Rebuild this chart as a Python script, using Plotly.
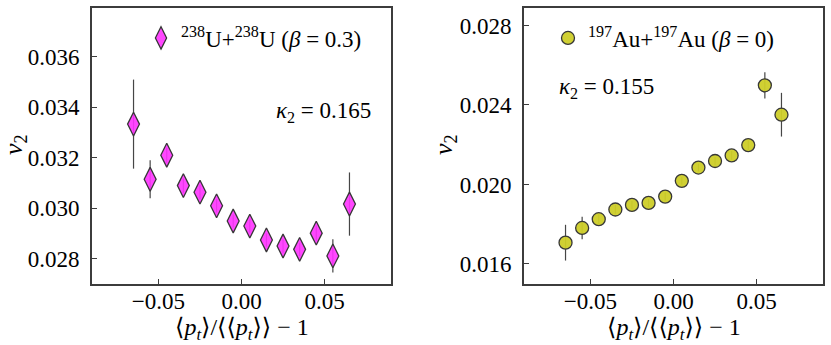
import plotly.graph_objects as go
from plotly.subplots import make_subplots

# x bins of <pt>/<<pt>> - 1
x_bins = [-0.065, -0.055, -0.045, -0.035, -0.025, -0.015, -0.005,
          0.005, 0.015, 0.025, 0.035, 0.045, 0.055, 0.065]

# 238U+238U (beta = 0.3)
v2_uu = [0.03333, 0.03115, 0.03210, 0.03090, 0.03064, 0.03010, 0.02950,
         0.02930, 0.02875, 0.02851, 0.02838, 0.02902, 0.02812, 0.03017]
err_uu = [0.00176, 0.00075, 0.00030, 0.00028, 0.00028, 0.00026, 0.00026,
          0.00026, 0.00026, 0.00026, 0.00026, 0.00030, 0.00066, 0.00125]

# 197Au+197Au (beta = 0)
v2_au = [0.01707, 0.01781, 0.01825, 0.01874, 0.01897, 0.01907, 0.01939,
         0.02018, 0.02085, 0.02118, 0.02146, 0.02198, 0.02499, 0.02351]
err_au = [0.00090, 0.00057, 0.00025, 0.00022, 0.00020, 0.00020, 0.00020,
          0.00020, 0.00020, 0.00022, 0.00022, 0.00025, 0.00066, 0.00110]

x_ticks = [-0.05, 0.0, 0.05]
x_ticktext = ["\u22120.05", "0.00", "0.05"]
uu_ticks = [0.028, 0.030, 0.032, 0.034, 0.036]
au_ticks = [0.016, 0.020, 0.024, 0.028]

FONT = "Liberation Serif, DejaVu Serif, serif"
EDGE = "rgb(55, 55, 55)"

fig = make_subplots(rows=1, cols=2)

fig.add_trace(go.Scatter(
    x=x_bins, y=v2_uu,
    mode="markers",
    name="<sup>238</sup>U+<sup>238</sup>U (<i>\u03b2</i> = 0.3)",
    marker=dict(symbol="diamond-tall", size=17, color="rgba(255, 51, 255, 0.9)",
                line=dict(color=EDGE, width=1.3)),
    error_y=dict(type="data", array=err_uu, color="rgb(70, 70, 70)",
                 thickness=1.2, width=0),
    showlegend=True,
    legend="legend",
), row=1, col=1)

fig.add_trace(go.Scatter(
    x=x_bins, y=v2_au,
    mode="markers",
    name="<sup>197</sup>Au+<sup>197</sup>Au (<i>\u03b2</i> = 0)",
    marker=dict(symbol="circle", size=13, color="rgba(205, 205, 40, 0.95)",
                line=dict(color=EDGE, width=1.3)),
    error_y=dict(type="data", array=err_au, color="rgb(70, 70, 70)",
                 thickness=1.2, width=0),
    showlegend=True,
    legend="legend2",
), row=1, col=2)

axis_style = dict(
    showline=True, mirror=True, linecolor="rgb(60, 60, 60)", linewidth=1.6,
    ticks="inside", ticklen=5, tickwidth=1, tickcolor="rgb(60, 60, 60)",
    showgrid=False, zeroline=False, automargin=False,
    tickfont=dict(family=FONT, size=23, color="black"),
)
xtitle = "\u27e8<i>p<sub>t</sub></i>\u27e9/\u27e8\u27e8<i>p<sub>t</sub></i>\u27e9\u27e9 \u2212 1"

fig.update_xaxes(**axis_style, range=[-0.09, 0.09], tickvals=x_ticks,
                 ticktext=x_ticktext, ticklabelstandoff=-4)
fig.update_xaxes(domain=[92 / 831, 391 / 831], row=1, col=1)
fig.update_xaxes(domain=[524 / 831, 823 / 831], row=1, col=2)
fig.update_yaxes(**axis_style, domain=[1 - 284 / 345, 1 - 8 / 345],
                 ticklabelstandoff=6)
fig.update_yaxes(range=[0.02701, 0.03792], tickvals=uu_ticks, tickformat=".3f",
                 row=1, col=1)
fig.update_yaxes(range=[0.01499, 0.02888], tickvals=au_ticks, tickformat=".3f",
                 row=1, col=2)

legend_style = dict(
    bgcolor="rgba(0,0,0,0)", borderwidth=0,
    font=dict(family=FONT, size=23, color="black"),
    xanchor="left", yanchor="middle", itemsizing="trace",
    visible=True,
)


def label(text, x, y, size, xanchor="center", **kw):
    return dict(text=text, xref="paper", yref="paper", x=x / 831, y=1 - y / 345,
                xanchor=xanchor, yanchor="middle", showarrow=False,
                font=dict(family=FONT, size=size, color="black"), **kw)


fig.update_layout(
    width=831, height=345,
    margin=dict(l=0, r=0, t=0, b=0, autoexpand=False),
    paper_bgcolor="white", plot_bgcolor="white",
    showlegend=True,
    legend=dict(**legend_style, x=141 / 831, y=1 - 38 / 345),
    legend2=dict(**legend_style, x=548 / 831, y=1 - 38 / 345),
    annotations=[
        label("<i>v</i><sub>2</sub>", 15, 145, 26, textangle=-90),
        label("<i>v</i><sub>2</sub>", 445, 145, 26, textangle=-90),
        label(xtitle, 242, 329, 24),
        label(xtitle, 674, 329, 24),
        label("<i>\u03ba</i><sub>2</sub> = 0.165", 373, 112, 23, xanchor="right"),
        label("<i>\u03ba</i><sub>2</sub> = 0.155", 557, 88, 23, xanchor="left"),
    ],
)

# drop the page's default body margin so the figure fills the window exactly
fig.write_html("out.html", config={"displayModeBar": False},
               post_script="document.body.style.margin='0';")
